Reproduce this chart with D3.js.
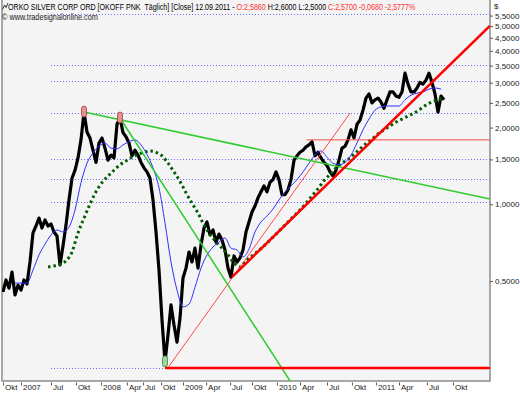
<!DOCTYPE html>
<html>
<head>
<meta charset="utf-8">
<script src="https://cdn.jsdelivr.net/npm/d3@7"></script>
<style>
  html, body { margin: 0; padding: 0; background: #fff; }
  svg { display: block; font-family: "Liberation Sans", Arial, sans-serif; }
</style>
</head>
<body>
<script>
"use strict";

// one close per bar (bar 0 = early Oct 2006)
const closes = [
  0.453, 0.505, 0.469, 0.542, 0.441, 0.482, 0.461, 0.505, 0.487, 0.594,
  0.772, 0.822, 0.883, 0.807, 0.868, 0.822, 0.837, 0.779, 0.751, 0.578,
  0.686, 0.829, 1.04, 1.265, 1.36, 1.52, 1.79, 2.30, 1.92, 1.82,
  1.63, 1.46, 1.74, 1.82, 1.66, 1.49, 1.56, 1.52, 2.06, 2.18,
  1.91, 1.84, 1.74, 1.55, 1.63, 1.56, 1.46, 1.39, 1.34, 1.265,
  1.04, 0.779, 0.552, 0.352, 0.241, 0.307, 0.403, 0.336, 0.288, 0.358,
  0.514, 0.562, 0.650, 0.594, 0.673, 0.562, 0.692, 0.807, 0.852, 0.758,
  0.793, 0.711, 0.764, 0.724, 0.662, 0.562, 0.518, 0.627, 0.594, 0.616,
  0.662, 0.779, 0.852, 0.933, 0.985, 1.06, 1.12, 1.18, 1.12, 1.22,
  1.25, 1.34, 1.25, 1.09, 1.09, 1.14, 1.25, 1.49, 1.55, 1.60,
  1.63, 1.68, 1.71, 1.76, 1.55, 1.60, 1.52, 1.46, 1.42, 1.34,
  1.29, 1.36, 1.49, 1.66, 1.69, 1.79, 1.96, 1.82, 2.06, 2.14,
  2.34, 2.61, 2.71, 2.50, 2.57, 2.61, 2.52, 2.38, 2.57, 2.76,
  2.76, 2.66, 2.63, 2.76, 3.27, 2.96, 2.76, 2.76, 2.86, 3.01,
  2.96, 3.07, 3.27, 3.01, 2.71, 2.30, 2.66, 2.57
];

// moving averages, sampled every second bar
const averageStep = 2;
const fastStart = 4;
const fastAverage = [
  0.491, 0.491, 0.491, 0.552, 0.633, 0.698, 0.758, 0.793, 0.779, 0.814,
  0.950, 1.216, 1.45, 1.59, 1.69, 1.74, 1.66, 1.65, 1.71, 1.76,
  1.79, 1.71, 1.57, 1.39, 1.16, 0.845, 0.594, 0.461, 0.396, 0.406,
  0.473, 0.562, 0.633, 0.680, 0.711, 0.738, 0.673, 0.662, 0.622, 0.667,
  0.779, 0.852, 0.900, 0.958, 1.04, 1.12, 1.18, 1.25, 1.34, 1.45,
  1.56, 1.62, 1.53, 1.45, 1.43, 1.46, 1.56, 1.74, 1.96, 2.16,
  2.34, 2.41, 2.43, 2.43, 2.43, 2.57, 2.68, 2.73, 2.76, 2.83,
  2.86, 2.83
];
const slowStart = 15;
const slowAverage = [
  0.568, 0.573, 0.583, 0.600, 0.650, 0.772, 0.883, 1.003, 1.12, 1.216,
  1.29, 1.36, 1.43, 1.48, 1.53, 1.57, 1.60, 1.62, 1.60, 1.55,
  1.45, 1.34, 1.23, 1.11, 1.01, 0.924, 0.829, 0.764, 0.711, 0.673,
  0.633, 0.589, 0.568, 0.600, 0.627, 0.656, 0.686, 0.724, 0.764, 0.807,
  0.852, 0.900, 0.950, 1.01, 1.08, 1.15, 1.24, 1.31, 1.39, 1.45,
  1.50, 1.57, 1.65, 1.73, 1.80, 1.89, 1.96, 2.03, 2.10, 2.16,
  2.22, 2.28, 2.36, 2.45, 2.52, 2.57, 2.63
];

const priceTicks = [5.5, 5, 4.5, 4, 3.5, 3, 2.5, 2, 1.5, 1, 0.5];
const timeTickBars = [0, 6, 16, 24.3, 32.7, 41.3, 46.7, 52.7, 60, 67.7,
  75.7, 83, 91.3, 99, 108, 116.3, 124.3, 132, 141.3, 150];
const timeTickLabels = ["Okt", "2007", "Jul", "Okt", "2008", "Apr", "Jul", "Okt",
  "2009", "Apr", "Jul", "Okt", "2010", "Apr", "Jul", "Okt", "2011", "Apr", "Jul", "Okt"];

// fibonacci levels drawn from the Jul 2007 bar onwards
const fibStartBar = 16;
const fibLevels = [5.6, 3.53, 3.05, 2.28, 1.50, 1.26, 1.02, 0.228];

// drawing tools: [bar, price] pairs
const greenLines = [
  [[27, 2.30], [162.3, 1.05]],
  [[39, 2.18], [95.7, 0.2027]]
];
const redThickLines = [
  [[76.3, 0.518], [162.3, 5.01]],
  [[54, 0.228], [162.3, 0.228]]
];
const redThinLines = [
  [[54.7, 0.226], [115.7, 2.28]],
  [[101.3, 1.79], [162.3, 1.79]]
];
const pivotHighs = [27, 39];
const pivotLows = [54];

const titleParts = [
  ["ORKO SILVER CORP ORD [OKOFF PNK  Täglich] [Close] 12.09.2011 - ", "#000"],
  ["O:2,5860", "#ff3030"],
  [" H:2,6000 L:2,5000 ", "#000"],
  ["C:2,5700 -0,0680 -2,5777%", "#ff3030"]
];

const width = 520;
const height = 394;
const plot = { left: 2, right: 490, top: 0, bottom: 381 };

const x = d3.scaleLinear().domain([0, 162]).range([3, 489]);
const y = d3.scaleLog().domain([0.2027, 6.331]).range([plot.bottom, plot.top]);

const deLocale = d3.formatLocale({ decimal: ",", thousands: ".", grouping: [3], currency: ["", "$"] });
const priceFormat = deLocale.format(".4f");

const svg = d3.select("body").append("svg")
  .attr("width", width)
  .attr("height", height)
  .attr("viewBox", [0, 0, width, height]);

svg.append("defs").append("clipPath").attr("id", "plotClip")
  .append("rect")
  .attr("x", plot.left).attr("y", plot.top)
  .attr("width", plot.right - plot.left).attr("height", plot.bottom - plot.top);

svg.append("rect")
  .attr("x", plot.left).attr("y", plot.top - 2)
  .attr("width", plot.right - plot.left).attr("height", plot.bottom - plot.top + 2)
  .attr("fill", "#f4f4f4")
  .attr("stroke", "#8c8c8c")
  .attr("stroke-width", 1.5);

const g = svg.append("g").attr("clip-path", "url(#plotClip)");

// fib levels
g.append("g")
  .selectAll("line")
  .data(fibLevels)
  .join("line")
  .attr("x1", x(fibStartBar))
  .attr("x2", plot.right)
  .attr("y1", (d) => Math.round(y(d)) + 0.5)
  .attr("y2", (d) => Math.round(y(d)) + 0.5)
  .attr("stroke", "#6f6fff")
  .attr("stroke-width", 1)
  .attr("stroke-dasharray", "1,2");

const barLine = d3.line()
  .x((d) => x(d[0]))
  .y((d) => y(d[1]));

const withBars = (values, start, step) => values.map((v, i) => [start + i * step, v]);

g.append("path")
  .datum(withBars(closes, 0, 1))
  .attr("d", barLine)
  .attr("fill", "none")
  .attr("stroke", "#000")
  .attr("stroke-width", 3.2)
  .attr("stroke-linejoin", "round");

g.append("path")
  .datum(withBars(slowAverage, slowStart, averageStep))
  .attr("d", barLine.curve(d3.curveMonotoneX))
  .attr("fill", "none")
  .attr("stroke", "#005c00")
  .attr("stroke-width", 3)
  .attr("stroke-dasharray", "2.5,3");

g.append("path")
  .datum(withBars(fastAverage, fastStart, averageStep))
  .attr("d", barLine.curve(d3.curveMonotoneX))
  .attr("fill", "none")
  .attr("stroke", "#3030ff")
  .attr("stroke-width", 1);

barLine.curve(d3.curveLinear);

/**
 * draws a set of two-point drawing tools
 * @param {Array} lines
 * @param {string} colour
 * @param {number} strokeWidth
 */
function drawTools(lines, colour, strokeWidth) {
  g.append("g")
    .selectAll("path")
    .data(lines)
    .join("path")
    .attr("d", barLine)
    .attr("fill", "none")
    .attr("stroke", colour)
    .attr("stroke-width", strokeWidth);
}

drawTools(redThinLines, "#ff4a4a", 1);
drawTools(greenLines, "#2ecc2e", 1.5);
drawTools(redThickLines, "#ff0000", 2.5);

// pivot markers
g.append("g")
  .selectAll("rect")
  .data(pivotHighs.map((i) => ({ i, high: true })).concat(pivotLows.map((i) => ({ i, high: false }))))
  .join("rect")
  .attr("x", (d) => x(d.i) - 2.5)
  .attr("y", (d) => y(closes[d.i]) - 6)
  .attr("width", 5)
  .attr("height", 11)
  .attr("rx", 2.5)
  .attr("fill", (d) => (d.high ? "#e89090" : "#9ed89e"))
  .attr("stroke", (d) => (d.high ? "#a04040" : "#3f7a3f"))
  .attr("stroke-width", 0.8);

// right price axis
const yAxis = svg.append("g")
  .attr("transform", `translate(${plot.right},0)`)
  .call(d3.axisRight(y).tickValues(priceTicks).tickFormat(priceFormat).tickSize(3).tickPadding(2));
yAxis.select(".domain").remove();
yAxis.selectAll("line").attr("stroke", "#555");
yAxis.selectAll("text")
  .attr("font-size", 8)
  .attr("font-family", "Liberation Sans, Arial, sans-serif")
  .attr("fill", "#222");

svg.append("text")
  .attr("x", 494).attr("y", 9)
  .attr("font-size", 8)
  .attr("fill", "#222")
  .text("$");

// bottom time axis
const xAxis = svg.append("g")
  .attr("transform", `translate(0,${plot.bottom + 1.5})`)
  .call(d3.axisBottom(x).tickValues(timeTickBars)
    .tickFormat((d, i) => timeTickLabels[i]).tickSize(3));
xAxis.select(".domain").remove();
xAxis.selectAll("line").attr("stroke", "#555");
xAxis.selectAll("text")
  .attr("x", 1.5)
  .attr("y", 2)
  .attr("text-anchor", "start")
  .attr("font-size", 8)
  .attr("font-family", "Liberation Sans, Arial, sans-serif")
  .attr("fill", "#222");

// header
svg.append("path")
  .attr("d", "M2.5,9.5 L4.5,5 L6,7.5 L8,3")
  .attr("fill", "none")
  .attr("stroke", "#333")
  .attr("stroke-width", 1);

/**
 * squeezes a text horizontally so it spans the given width
 * @param {d3.Selection} sel
 * @param {number} left
 * @param {number} baseline
 * @param {number} span
 */
function fitText(sel, left, baseline, span) {
  const natural = sel.node().getComputedTextLength();
  sel.attr("transform", `translate(${left},${baseline}) scale(${span / natural},1)`);
}

const title = svg.append("text")
  .attr("font-size", 9)
  .style("white-space", "pre");
title.selectAll("tspan")
  .data(titleParts)
  .join("tspan")
  .attr("fill", (d) => d[1])
  .text((d) => d[0]);
fitText(title, 8, 9.5, 408);

const credit = svg.append("text")
  .attr("font-size", 9)
  .attr("fill", "#222")
  .text("© www.tradesignalonline.com");
fitText(credit, 2, 20, 96);
</script>
</body>
</html>
